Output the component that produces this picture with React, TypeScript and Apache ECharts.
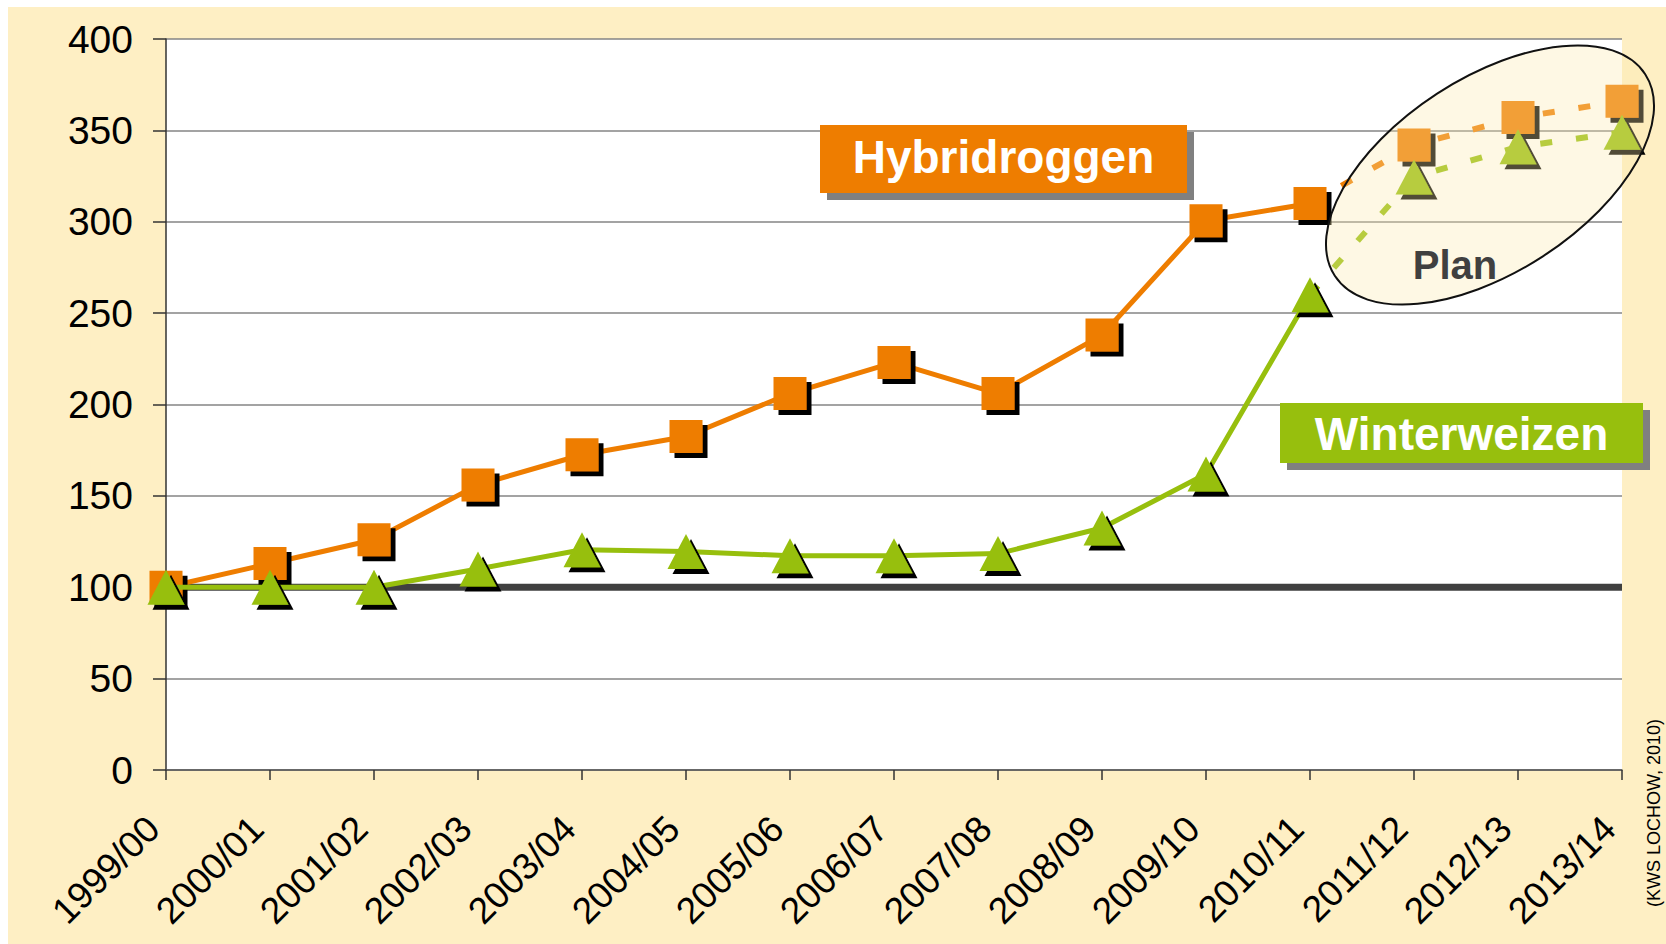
import React, { useEffect, useRef } from "react";
import * as echarts from "echarts";

const CATEGORIES = [
  "1999/00", "2000/01", "2001/02", "2002/03", "2003/04", "2004/05", "2005/06",
  "2006/07", "2007/08", "2008/09", "2009/10", "2010/11", "2011/12", "2012/13", "2013/14",
];
const HYBRIDROGGEN = [100, 113, 126, 156, 172.5, 182.5, 206, 223, 206, 238, 300.5, 310];
const HYBRIDROGGEN_PLAN = [342, 357, 366];
const WINTERWEIZEN = [100, 100, 100, 110, 120.5, 119.5, 117.3, 117.3, 118.4, 132.4, 162, 260];
const WINTERWEIZEN_PLAN = [324.5, 341, 349];
const BASELINE = [100, 100, 100, 100, 100, 100, 100, 100, 100, 100, 100, 100, 100, 100, 100];
const Y_MIN = 0;
const Y_MAX = 400;
const Y_STEP = 50;

const ORANGE = "#EE7D00";
const GREEN = "#97BF0D";
const FONT = "'Liberation Sans', Arial, sans-serif";

function planData(actual: number[], plan: number[]) {
  const out: any[] = actual.map(() => null);
  out[actual.length - 1] = { value: actual[actual.length - 1], symbol: "none" };
  return out.concat(plan);
}

export default function App() {
  const ref = useRef<HTMLDivElement>(null);

  useEffect(() => {
    if (!ref.current) return;
    const chart = echarts.init(ref.current, null, { renderer: "svg" });
    const markerShadow = {
      shadowColor: "#000",
      shadowOffsetX: 5,
      shadowOffsetY: 5,
      shadowBlur: 0,
    };
    const option: any = {
      animation: false,
      backgroundColor: "transparent",
      grid: {
        left: 158,
        right: 44,
        top: 32,
        bottom: 174,
        show: true,
        backgroundColor: "#ffffff",
        borderWidth: 0,
      },
      xAxis: {
        type: "category",
        data: CATEGORIES,
        boundaryGap: false,
        axisLine: { show: true, lineStyle: { color: "#555", width: 1.5 } },
        axisTick: { show: true, length: 10, lineStyle: { color: "#333", width: 1.5 } },
        axisLabel: {
          rotate: 45,
          margin: 40,
          padding: [0, 18, 0, 0],
          fontSize: 37,
          fontFamily: FONT,
          color: "#000",
          interval: 0,
        },
        splitLine: { show: false },
      },
      yAxis: {
        type: "value",
        min: Y_MIN,
        max: Y_MAX,
        interval: Y_STEP,
        axisLine: { show: true, lineStyle: { color: "#333", width: 1.5 } },
        axisTick: { show: true, length: 13, lineStyle: { color: "#333", width: 1.5 } },
        axisLabel: {
          margin: 33,
          fontSize: 39,
          fontFamily: FONT,
          color: "#000",
        },
        splitLine: { show: true, lineStyle: { color: "#858585", width: 1.5 } },
      },
      series: [
        {
          name: "Basis",
          type: "line",
          data: BASELINE,
          symbol: "none",
          z: 1,
          lineStyle: { color: "#404040", width: 7 },
          silent: true,
        },
        {
          name: "Hybridroggen",
          type: "line",
          data: HYBRIDROGGEN,
          symbol: "rect",
          symbolSize: 33,
          z: 3,
          lineStyle: { color: ORANGE, width: 5 },
          itemStyle: { color: ORANGE, ...markerShadow },
        },
        {
          name: "Winterweizen",
          type: "line",
          data: WINTERWEIZEN,
          symbol: "triangle",
          symbolSize: [37, 35],
          z: 4,
          lineStyle: { color: GREEN, width: 5 },
          itemStyle: { color: GREEN, ...markerShadow },
        },
        {
          name: "Hybridroggen Plan",
          type: "line",
          data: planData(HYBRIDROGGEN, HYBRIDROGGEN_PLAN),
          symbol: "rect",
          symbolSize: 33,
          z: 3,
          lineStyle: { color: ORANGE, width: 6, type: [12, 24] },
          itemStyle: { color: ORANGE, ...markerShadow },
        },
        {
          name: "Winterweizen Plan",
          type: "line",
          data: planData(WINTERWEIZEN, WINTERWEIZEN_PLAN),
          symbol: "triangle",
          symbolSize: [37, 35],
          z: 4,
          lineStyle: { color: GREEN, width: 6, type: [12, 24] },
          itemStyle: { color: GREEN, ...markerShadow },
        },
      ],
      graphic: [
        {
          type: "ellipse",
          x: 1482,
          y: 168,
          rotation: 0.576,
          shape: { cx: 0, cy: 0, rx: 185, ry: 97 },
          style: { fill: "rgba(253,232,170,0.32)", stroke: "#111", lineWidth: 2 },
          z: 50,
        },
        {
          type: "text",
          x: 1447,
          y: 258,
          style: {
            text: "Plan",
            fill: "#404040",
            font: `bold 40px ${FONT}`,
            textAlign: "center",
            textVerticalAlign: "middle",
          },
          z: 51,
        },
        {
          type: "rect",
          shape: { x: 819, y: 125, width: 367, height: 68 },
          style: { fill: "#808080" },
          z: 60,
        },
        {
          type: "rect",
          shape: { x: 812, y: 118, width: 367, height: 68 },
          style: { fill: ORANGE },
          z: 61,
        },
        {
          type: "text",
          x: 995.5,
          y: 150,
          style: {
            text: "Hybridroggen",
            fill: "#fff",
            font: `bold 46px ${FONT}`,
            textAlign: "center",
            textVerticalAlign: "middle",
          },
          z: 62,
        },
        {
          type: "rect",
          shape: { x: 1279, y: 403, width: 363, height: 60 },
          style: { fill: "#808080" },
          z: 60,
        },
        {
          type: "rect",
          shape: { x: 1272, y: 396, width: 363, height: 60 },
          style: { fill: GREEN },
          z: 61,
        },
        {
          type: "text",
          x: 1453.5,
          y: 427,
          style: {
            text: "Winterweizen",
            fill: "#fff",
            font: `bold 46px ${FONT}`,
            textAlign: "center",
            textVerticalAlign: "middle",
          },
          z: 62,
        },
        {
          type: "text",
          x: 1646,
          y: 806,
          rotation: Math.PI / 2,
          style: {
            text: "(KWS LOCHOW, 2010)",
            fill: "#000",
            font: `18px ${FONT}`,
            textAlign: "center",
            textVerticalAlign: "middle",
          },
          z: 62,
        },
      ],
    };
    chart.setOption(option);
    return () => chart.dispose();
  }, []);

  return (
    <div
      style={{
        position: "absolute",
        left: 0,
        top: 0,
        width: 1666,
        height: 944,
        background: "#ffffff",
        overflow: "hidden",
      }}
    >
      <div
        ref={ref}
        style={{
          position: "absolute",
          left: 8,
          top: 7,
          width: 1658,
          height: 937,
          background: "#FEEFC4",
        }}
      />
    </div>
  );
}
